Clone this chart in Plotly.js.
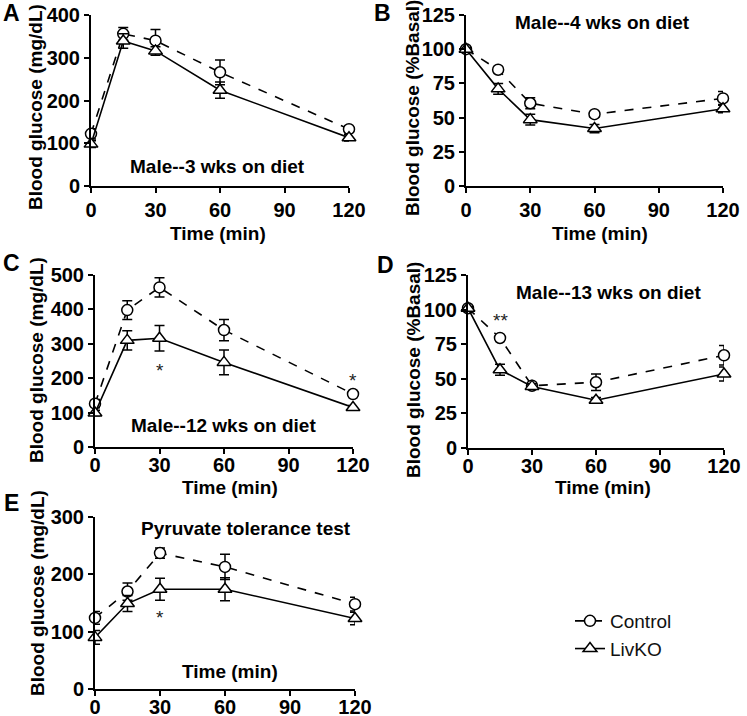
<!DOCTYPE html>
<html>
<head>
<meta charset="utf-8">
<script src="https://cdn.plot.ly/plotly-3.0.1.min.js"></script>
<style>html,body{margin:0;padding:0;background:#fff;}#chart{width:747px;height:716px;}</style>
</head>
<body>
<div id="chart"></div>
<script>
// Time points (min)
const time = [0, 15, 30, 60, 120];

// Panel A: GTT, male 3 wks on diet (mg/dL)
const aControl = [122, 356, 340, 266, 133];
const aControlErr = [12, 15, 26, 29, 8];
const aLivKO = [98, 339, 316, 224, 113];
const aLivKOErr = [8, 17, 10, 19, 8];

// Panel B: ITT, male 4 wks on diet (% basal)
const bControl = [100, 85, 60.5, 52.5, 64];
const bControlErr = [1, 2, 4, 2, 5];
const bLivKO = [100, 71, 48.5, 42, 56.5];
const bLivKOErr = [1, 4, 4, 3, 3];

// Panel C: GTT, male 12 wks on diet (mg/dL)
const cControl = [126, 398, 464, 340, 154];
const cControlErr = [12, 27, 28, 31, 6];
const cLivKO = [99, 310, 316, 246, 115];
const cLivKOErr = [8, 28, 37, 36, 6];

// Panel D: ITT, male 13 wks on diet (% basal)
const dControl = [101, 79.5, 45, 47.5, 67];
const dControlErr = [1, 2, 2, 6, 7];
const dLivKO = [101, 56.5, 44.5, 34.5, 53.5];
const dLivKOErr = [1, 4, 2, 2, 5];

// Panel E: Pyruvate tolerance test (mg/dL)
const eControl = [124, 170, 237, 213, 148];
const eControlErr = [11, 15, 9, 22, 12];
const eLivKO = [90, 149, 174, 174, 123];
const eLivKOErr = [12, 14, 19, 20, 11];

const seriesNames = ['Control', 'LivKO'];
const panelLabels = ['A', 'B', 'C', 'D', 'E'];
const panelTitles = ['Male--3 wks on diet', 'Male--4 wks on diet', 'Male--12 wks on diet', 'Male--13 wks on diet', 'Pyruvate tolerance test'];
const yTitles = ['Blood glucose (mg/dL)', 'Blood glucose (%Basal)', 'Blood glucose (mg/dL)', 'Blood glucose (%Basal)', 'Blood glucose (mg/dL)'];
const xTitle = 'Time (min)';
const xTicks = [0, 30, 60, 90, 120];
const yRanges = [[0, 400], [0, 125], [0, 500], [0, 125], [0, 300]];
const yDtick = [100, 25, 100, 25, 100];

// significance marks [panel, x, y, text]
const sigMarks = [
  [2, 30, 233, '*'],
  [2, 120, 204, '*'],
  [3, 15, 95, '**'],
  [4, 30, 131, '*']
];

const panels = [
  [aControl, aControlErr, aLivKO, aLivKOErr],
  [bControl, bControlErr, bLivKO, bLivKOErr],
  [cControl, cControlErr, cLivKO, cLivKOErr],
  [dControl, dControlErr, dLivKO, dLivKOErr],
  [eControl, eControlErr, eLivKO, eLivKOErr]
];

const W = 747, H = 716;
// pixel boxes [left, right, top, bottom]
const boxes = [
  [91, 349, 15, 186],
  [466, 723, 15, 186],
  [95, 353, 275, 447],
  [468, 724, 275, 448],
  [95, 355, 517, 689]
];
const titlePos = [[217, 166], [602, 23], [223, 425], [608, 292], [246, 528]];
const labelPos = [[11, 13], [382, 13], [12, 263], [385, 265], [11, 503]];
const yTitlePos = [[35, 107], [412, 108], [36, 360], [413, 370], [37, 593]];
const xTitlePos = [[218, 233], [600, 233], [230, 487], [603, 487], [230, 671]];
const xLabelStandoff = [0, 0, -6, -6, -6];

const FONT = 'Liberation Sans, Arial, sans-serif';
const traces = [];
const layout = {
  width: W, height: H,
  margin: {l: 0, r: 0, t: 0, b: 0},
  paper_bgcolor: '#fff', plot_bgcolor: 'rgba(0,0,0,0)',
  font: {family: FONT, color: '#000'},
  showlegend: true,
  legend: {x: 570 / W, y: 1 - 602 / H, xanchor: 'left', yanchor: 'top',
           font: {family: FONT, size: 19, color: '#111'}, bgcolor: 'rgba(0,0,0,0)',
           itemwidth: 30, tracegroupgap: 0},
  annotations: []
};

function paperAnn(text, px, py, size, angle) {
  return {
    xref: 'paper', yref: 'paper', x: px / W, y: 1 - py / H,
    text: '<b>' + text + '</b>', showarrow: false, xanchor: 'center', yanchor: 'middle',
    textangle: angle || 0,
    font: {family: FONT, size: size, color: '#000'}
  };
}

panels.forEach((p, i) => {
  const n = i + 1;
  const xa = 'x' + (n === 1 ? '' : n), ya = 'y' + (n === 1 ? '' : n);
  const b = boxes[i];
  const styles = [
    {sym: 'circle', size: 11, dash: 'dash'},
    {sym: 'triangle-up', size: 12, dash: 'solid'}
  ];
  [0, 1].forEach(s => {
    traces.push({
      type: 'scatter', mode: 'lines+markers',
      x: time, y: p[s * 2],
      error_y: {type: 'data', array: p[s * 2 + 1], visible: true, color: '#000', thickness: 1.5, width: 5},
      name: seriesNames[s],
      xaxis: xa, yaxis: ya,
      showlegend: i === 4,
      cliponaxis: false,
      line: {color: '#000', width: 1.6, dash: styles[s].dash},
      marker: {symbol: styles[s].sym, size: styles[s].size, color: '#fff', line: {color: '#000', width: 1.5}}
    });
  });
  const axCommon = {
    showgrid: false, zeroline: false, showline: true, linecolor: '#000', linewidth: 2,
    ticks: 'outside', ticklen: 5, tickwidth: 2, tickcolor: '#000',
    tickfont: {family: FONT, size: 20, color: '#000', weight: 'bold'},
    automargin: false, fixedrange: true
  };
  layout['xaxis' + (n === 1 ? '' : n)] = Object.assign({}, axCommon, {
    domain: [b[0] / W, b[1] / W], anchor: ya, range: [0, 120],
    tickvals: xTicks, ticktext: xTicks.map(String),
    ticklabelstandoff: xLabelStandoff[i]
  });
  layout['yaxis' + (n === 1 ? '' : n)] = Object.assign({}, axCommon, {
    domain: [1 - b[3] / H, 1 - b[2] / H], anchor: xa, range: yRanges[i], dtick: yDtick[i], tick0: 0,
    ticklabelstandoff: 0
  });
  layout.annotations.push(paperAnn(panelTitles[i], titlePos[i][0], titlePos[i][1], 19));
  layout.annotations.push(paperAnn(panelLabels[i], labelPos[i][0], labelPos[i][1], 23));
  layout.annotations.push(paperAnn(yTitles[i], yTitlePos[i][0], yTitlePos[i][1], 19, -90));
  layout.annotations.push(paperAnn(xTitle, xTitlePos[i][0], xTitlePos[i][1], 19));
});

sigMarks.forEach(m => {
  const n = m[0] + 1;
  layout.annotations.push({
    xref: 'x' + (n === 1 ? '' : n), yref: 'y' + (n === 1 ? '' : n), x: m[1], y: m[2],
    text: m[3], showarrow: false, xanchor: 'center', yanchor: 'middle', yshift: -4,
    font: {family: FONT, size: 19, color: '#222'}
  });
});

Plotly.newPlot('chart', traces, layout, {displayModeBar: false, staticPlot: true});
</script>
</body>
</html>
